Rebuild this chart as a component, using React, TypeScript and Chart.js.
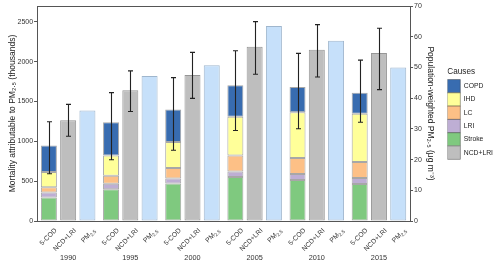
import { useEffect, useRef } from 'react';
import { Chart, registerables } from 'chart.js';
Chart.register(...registerables);

const years = ['1990', '1995', '2000', '2005', '2010', '2015'];
const stroke = [294, 400, 471, 552, 516, 465];
const lri = [63, 67, 63, 71, 74, 74];
const lc = [68, 101, 131, 198, 202, 202];
const ihd = [190, 253, 328, 488, 575, 606];
const copd = [332, 420, 408, 396, 316, 265];
const codLow = [593, 770, 888, 1136, 1158, 1241];
const codHigh = [1246, 1612, 1801, 2138, 2105, 2020];
const ncdLri = [1265, 1641, 1835, 2188, 2150, 2109];
const ncdLow = [1065, 1376, 1540, 1843, 1809, 1650];
const ncdHigh = [1465, 1885, 2117, 2504, 2466, 2420];
const pm25 = [36.0, 47.2, 50.7, 63.5, 58.7, 50.0];
const leftTicks = [0, 500, 1000, 1500, 2000, 2500];
const rightTicks = [0, 10, 20, 30, 40, 50, 60, 70];
const legendOrder = ['COPD', 'IHD', 'LC', 'LRI', 'Stroke', 'NCD+LRI'];

const FONT = "'Liberation Sans', Arial, sans-serif";

export default function App() {
  const ref = useRef<HTMLCanvasElement>(null);
  useEffect(() => {
    if (!ref.current) return;
    const errPlugin = {
      id: 'errbars',
      afterDatasetsDraw(chart: any) {
        const ctx = chart.ctx;
        const y = chart.scales.y;
        const draw = (dsIndex: number, lo: number[], hi: number[]) => {
          const meta = chart.getDatasetMeta(dsIndex);
          meta.data.forEach((bar: any, i: number) => {
            const x = Math.round(bar.x) + 0.5;
            const y1 = y.getPixelForValue(lo[i]);
            const y2 = y.getPixelForValue(hi[i]);
            ctx.save();
            ctx.strokeStyle = '#222';
            ctx.lineWidth = 1.1;
            ctx.beginPath();
            ctx.moveTo(x, y1);
            ctx.lineTo(x, y2);
            ctx.moveTo(x - 2.5, y1);
            ctx.lineTo(x + 2.5, y1);
            ctx.moveTo(x - 2.5, y2);
            ctx.lineTo(x + 2.5, y2);
            ctx.stroke();
            ctx.restore();
          });
        };
        draw(4, codLow, codHigh);
        draw(5, ncdLow, ncdHigh);
      },
    };
    const subLabels = {
      id: 'sublabels',
      afterDraw(chart: any) {
        const ctx = chart.ctx;
        const bottom = chart.chartArea.bottom;
        const groups: [number, string, string][] = [
          [4, '5-COD', ''],
          [5, 'NCD+LRI', ''],
          [6, 'PM', '2.5'],
        ];
        groups.forEach(([di, main, sub]) => {
          const meta = chart.getDatasetMeta(di);
          meta.data.forEach((bar: any) => {
            ctx.save();
            ctx.translate(bar.x + 7, bottom + 8.5);
            ctx.rotate(-Math.PI / 4);
            ctx.fillStyle = '#333';
            ctx.textBaseline = 'middle';
            ctx.textAlign = 'left';
            ctx.font = `6.8px ${FONT}`;
            const w1 = ctx.measureText(main).width;
            ctx.font = `5px ${FONT}`;
            const w2 = sub ? ctx.measureText(sub).width : 0;
            ctx.font = `6.8px ${FONT}`;
            ctx.fillText(main, -(w1 + w2), 0);
            if (sub) {
              ctx.font = `5px ${FONT}`;
              ctx.fillText(sub, -w2, 2);
            }
            ctx.restore();
          });
        });
        const xs = chart.scales.x;
        ctx.save();
        ctx.fillStyle = '#333';
        ctx.font = `7.3px ${FONT}`;
        ctx.textAlign = 'center';
        ctx.textBaseline = 'middle';
        years.forEach((yr, i) => {
          ctx.fillText(yr, xs.getPixelForValue(i), bottom + 37);
        });
        ctx.restore();
      },
    };
    const framePlugin = {
      id: 'frame',
      afterDatasetsDraw(chart: any) {
        const { left, top, right, bottom } = chart.chartArea;
        const ctx = chart.ctx;
        ctx.save();
        ctx.strokeStyle = '#555';
        ctx.lineWidth = 1;
        ctx.strokeRect(Math.round(left) + 0.5, Math.round(top) + 0.5, Math.round(right - left), Math.round(bottom - top));
        ctx.restore();
      },
    };

    const seg = (label: string, data: number[], color: string) => ({
      label,
      data,
      backgroundColor: color,
      borderColor: 'rgba(60,60,60,0.45)',
      borderWidth: 1,
      borderSkipped: false,
      stack: 'cod',
      yAxisID: 'y',
    });

    const chart = new Chart(ref.current, {
      type: 'bar',
      data: {
        labels: years,
        datasets: [
          seg('Stroke', stroke, '#7FC97F'),
          seg('LRI', lri, '#BEAED4'),
          seg('LC', lc, '#FDC086'),
          seg('IHD', ihd, '#FFFF99'),
          seg('COPD', copd, '#386CB0'),
          {
            label: 'NCD+LRI',
            data: ncdLri,
            backgroundColor: '#BEBEBE',
            borderColor: '#969696',
            borderWidth: 1,
            borderSkipped: false,
            stack: 'ncd',
            yAxisID: 'y',
          },
          {
            label: 'PM2.5',
            data: pm25,
            backgroundColor: '#C6E0FA',
            borderColor: '#9FB6CD',
            borderWidth: 1,
            borderSkipped: false,
            stack: 'pm',
            yAxisID: 'y1',
          },
        ],
      },
      options: {
        animation: false,
        responsive: true,
        maintainAspectRatio: false,
        datasets: { bar: { categoryPercentage: 0.93, barPercentage: 0.83 } },
        layout: { padding: { left: 8, top: 6, right: -3, bottom: 44 } },
        plugins: {
          tooltip: { enabled: false },
          legend: {
            position: 'right',
            align: 'center',
            title: {
              display: true,
              text: 'Causes',
              position: 'start',
              color: '#222',
              font: { family: FONT, size: 8.2 },
              padding: { top: 0, bottom: 2 },
            },
            labels: {
              boxWidth: 13,
              boxHeight: 13.3,
              padding: 0,
              color: '#222',
              font: { family: FONT, size: 6.8 },
              filter: (item: any) => item.text !== 'PM2.5',
              sort: (a: any, b: any) => legendOrder.indexOf(a.text) - legendOrder.indexOf(b.text),
            },
          },
        },
        scales: {
          x: {
            stacked: true,
            grid: { display: false, drawTicks: false },
            border: { display: false },
            ticks: { display: false },
          },
          y: {
            stacked: true,
            position: 'left',
            min: 0,
            max: 2700,
            afterBuildTicks: (scale: any) => {
              scale.ticks = leftTicks.map((v) => ({ value: v }));
            },
            ticks: { color: '#333', font: { family: FONT, size: 7 }, padding: 1, callback: (v: any) => String(v) },
            grid: { drawOnChartArea: false, drawTicks: true, tickLength: 3, color: '#555' },
            border: { display: false },
            title: {
              display: true,
              text: 'Mortality attributable to PM₂.₅ (thousands)',
              color: '#222',
              font: { family: FONT, size: 8.5, lineHeight: 1 },
              padding: { top: 0, bottom: 0 },
            },
          },
          y1: {
            stacked: true,
            position: 'right',
            min: 0,
            max: 70,
            afterBuildTicks: (scale: any) => {
              scale.ticks = rightTicks.map((v) => ({ value: v }));
            },
            ticks: { color: '#333', font: { family: FONT, size: 7 }, padding: 1, callback: (v: any) => String(v) },
            grid: { drawOnChartArea: false, drawTicks: true, tickLength: 3, color: '#555' },
            border: { display: false },
            title: {
              display: true,
              text: 'Population-weighted PM₂.₅ (μg m⁻³)',
              color: '#222',
              font: { family: FONT, size: 8.5, lineHeight: 1 },
              padding: { top: 13, bottom: 3 },
            },
          },
        },
      },
      plugins: [errPlugin, subLabels, framePlugin],
    } as any);
    return () => chart.destroy();
  }, []);

  return (
    <div style={{ position: 'absolute', left: 0, top: 0, width: 500, height: 265 }}>
      <canvas ref={ref} />
    </div>
  );
}
